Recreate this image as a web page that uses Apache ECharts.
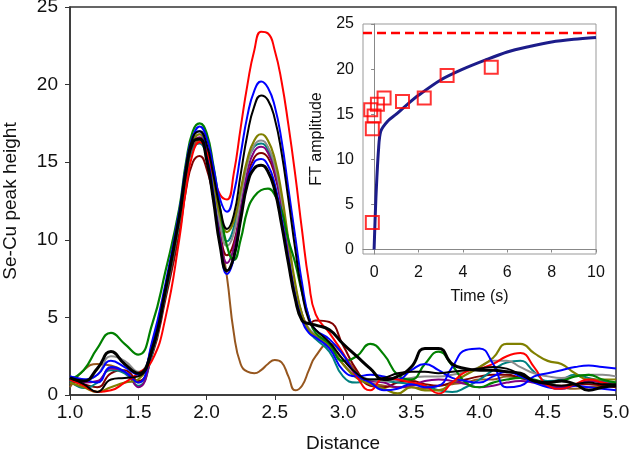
<!DOCTYPE html>
<html>
<head>
<meta charset="utf-8">
<script src="https://cdn.jsdelivr.net/npm/echarts@6/dist/echarts.min.js"></script>
<style>
  html, body { margin: 0; padding: 0; background: #fff; }
  #chart { width: 629px; height: 456px; }
</style>
</head>
<body>
<div id="chart"></div>
<script>
// distance grid shared by every curve (finer around the two peaks)
const distance = [1.0,1.1,1.2,1.3,1.4,1.5,1.6,1.7,1.8,1.85,1.9,1.95,2.0,2.05,2.1,2.15,2.2,2.25,2.3,2.35,2.4,2.45,2.5,2.55,2.6,2.65,2.7,2.75,2.8,2.9,3.0,3.1,3.2,3.3,3.4,3.5,3.6,3.7,3.8,3.9,4.0,4.1,4.2,4.3,4.4,4.5,4.6,4.7,4.8,4.9,5.0];

const red = [1.0,0.6,0.2,0.3,0.8,1.4,2.2,5.0,10.0, 13.3,15.6,16.3,15.7,14.2,12.9,12.6,14.3,17.2,20.0,22.2,23.4,23.3,22.2,20.2,17.4,14.2,10.6,7.3,5.2, 4.0,2.7,1.2,0.3,1.1,1.0,0.8,0.6,0.1,0.8,1.5,1.7,2.0,2.5,2.7,1.8,0.6,0.4,0.7,1.0,0.8,0.6];
const blue = [1.2,1.0,1.3,2.2,1.8,1.3,3.2,7.0,11.5, 14.5,16.6,17.3,16.6,14.7,12.6,11.8,13.0,15.5,18.0,19.6,20.2,19.8,18.6,16.4,13.3,10.2,7.2,5.0,4.2, 3.6,2.6,1.3,0.8,0.3,0.4,0.7,0.5,0.6,1.8,2.9,3.0,2.0,0.5,0.6,1.2,1.4,1.6,1.8,1.9,1.8,1.7];
const blackThin = [1.1,0.7,0.2,1.0,1.1,1.2,2.8,6.8,11.5, 14.6,16.6,17.0,16.2,14.2,12.0,10.7,11.6,14.2,16.8,18.6,19.3,19.0,17.8,15.6,12.6,9.4,6.6,4.8,4.2, 3.4,2.3,1.4,1.0,1.1,1.4,1.5,1.5,1.4,1.5,1.6,1.7,1.8,1.7,1.3,0.9,0.7,0.6,0.7,0.8,0.7,0.7];
const olive = [0.8,0.5,0.2,0.5,0.8,1.0,3.0,6.8,11.2, 14.3,16.3,16.8,16.0,13.8,11.5,10.5,11.2,13.2,15.2,16.4,16.8,16.4,15.2,13.0,10.0,7.2,5.2,4.2,3.8, 3.2,2.0,1.1,0.7,0.4,0.1,0.5,0.3,0.3,0.8,1.3,1.8,2.4,3.3,3.3,2.7,2.2,2.0,1.4,1.0,1.0,1.0];
const gray = [1.2,1.0,1.3,2.5,2.2,1.5,3.0,6.9,11.3, 14.4,16.4,16.8,15.8,13.6,11.0,9.6,10.4,12.7,14.9,16.1,16.4,16.0,14.8,12.6,9.8,7.0,5.2,4.3,3.9, 3.3,2.3,1.4,1.0,0.9,1.0,1.1,1.2,1.2,1.3,1.5,1.8,2.2,2.2,1.8,1.4,1.2,1.1,1.2,1.3,1.3,1.2];
const purple = [1.0,0.8,0.9,1.7,1.5,0.5,2.8,6.8,11.2, 14.3,16.2,16.6,15.5,13.0,10.2,8.5,9.5,12.0,14.4,15.7,16.0,15.6,14.4,12.2,9.4,6.8,5.0,4.2,3.8, 3.1,2.0,1.2,0.9,0.8,0.5,0.6,0.9,1.0,0.9,0.7,0.5,0.6,0.8,0.9,0.8,0.6,0.5,0.6,0.9,0.8,0.6];
const blue2 = [1.2,1.0,0.8,1.8,1.5,0.8,3.4,7.2,11.8, 14.8,16.7,17.0,15.8,13.0,9.8,7.8,8.8,11.4,13.8,15.0,15.2,14.8,13.6,11.4,8.8,6.4,4.8,4.0,3.7, 3.0,1.6,1.2,1.3,1.2,1.0,1.6,2.0,1.6,1.1,0.9,0.8,1.2,1.5,1.2,0.8,0.5,0.4,0.6,0.5,0.4,0.3];
const blackThick = [1.1,0.9,1.7,2.8,2.0,1.4,2.9,6.8,11.4, 14.4,16.3,16.5,15.2,12.6,9.6,8.0,8.9,11.3,13.6,14.6,14.8,14.4,13.2,11.0,8.5,6.2,4.8,4.6,4.5, 4.2,3.3,2.5,1.7,1.0,1.2,1.8,3.0,3.0,2.0,1.7,1.6,1.6,1.5,1.4,0.9,0.8,0.9,0.7,0.3,0.5,0.6];
const green = [1.0,1.6,3.0,4.0,3.3,2.6,4.5,8.0,12.0, 15.0,17.0,17.5,16.9,14.8,12.0,9.6,8.7,10.0,11.9,12.8,13.2,13.3,12.9,11.9,10.0,8.5,6.6,5.0,4.0, 3.3,2.2,2.5,3.3,2.6,1.3,1.0,2.0,2.8,1.9,0.8,0.5,0.8,1.0,1.1,1.0,0.8,0.9,1.2,1.3,1.0,0.8];
const teal = [0.9,0.45,0.8,1.6,1.4,0.6,2.6,6.5,11.0, 14.0,15.9,16.2,15.4,13.4,11.0,9.9,10.8,13.0,15.0,16.0,16.2,15.8,14.6,12.4,9.6,6.9,5.0,4.1,3.6, 2.8,1.2,0.8,1.0,0.9,0.8,0.7,0.6,0.3,0.2,0.5,1.0,1.6,2.1,2.2,1.5,0.9,1.0,1.3,1.1,0.9,0.8];
const maroon = [0.9,0.7,0.5,1.4,1.6,0.9,2.5,6.2,10.4, 13.2,15.0,15.4,14.6,12.8,10.4,9.0,9.8,12.0,14.0,15.3,15.6,15.3,14.2,12.2,9.6,7.0,5.2,4.6,4.8, 4.7,3.2,1.6,0.6,0.5,0.8,0.9,0.7,0.6,0.8,1.0,1.2,1.3,1.3,1.1,0.9,0.7,0.6,0.7,0.7,0.6,0.5];
const brown = [0.5,1.6,2.0,1.9,1.5,0.8,2.8,6.6,11.2, 14.2,16.0,16.4,15.5,13.3,10.3,7.6,4.0,2.0,1.5,1.4,1.6,2.0,2.25,2.1,1.2,0.3,0.6,1.6,2.5, 3.3,2.6,1.5,0.8,0.6,0.5,0.5,0.4,0.6,0.7,0.8,1.0,1.0,1.2,1.1,0.9,0.7,0.5,0.4,0.5,0.6,0.7];

// inset: FT amplitude vs time
const timePoints = [-0.08,-0.08,0,-0.15,0.15,0.45,1.28,2.26,3.29,5.28];
const ampPoints = [3.0,13.4,14.8,15.5,16.1,16.8,16.4,16.8,19.3,20.2];
const fitTime = [0,0.08,0.2,0.3,0.6,1,1.5,2,3,4,5,6,7,8,9,10];
const fitAmp = [0,5.6,11.1,13.1,14.2,15.0,16.1,17.1,18.8,20.0,21.0,21.9,22.5,23.0,23.3,23.5];
const plateau = 24;
const insetXTicks = [0,2,4,6,8,10];
const insetYTicks = [0,5,10,15,20,25];

// drawing order: first in list is at the bottom
const curves = [
    { data: brown, color: "#96561e", width: 2 },
    { data: maroon, color: "#800000", width: 2 },
    { data: teal, color: "#008080", width: 2 },
    { data: purple, color: "#800080", width: 2 },
    { data: gray, color: "#8c8c8c", width: 2 },
    { data: olive, color: "#808000", width: 2.2 },
    { data: green, color: "#008000", width: 2.2 },
    { data: blue2, color: "#0000ff", width: 2 },
    { data: red, color: "#ff0000", width: 2 },
    { data: blue, color: "#0000ff", width: 2 },
    { data: blackThin, color: "#000000", width: 2 },
    { data: blackThick, color: "#000000", width: 3 },
];

const font = "Liberation Sans";
const chart = echarts.init(document.getElementById("chart"));

const mainSeries = curves.map((c) => ({
    type: "line",
    xAxisIndex: 0,
    yAxisIndex: 0,
    data: distance.map((d, i) => [d, c.data[i]]),
    showSymbol: false,
    smooth: 0.5,
    lineStyle: { color: c.color, width: c.width },
    itemStyle: { color: c.color },
    z: 2,
}));

chart.setOption({
    animation: false,
    backgroundColor: "#fff",
    textStyle: { fontFamily: font },
    grid: [
        {
            left: 70,
            top: 7,
            right: 13,
            bottom: 61,
            outerBoundsMode: "none",
            containLabel: false,
            show: true,
            borderColor: "#333",
            borderWidth: 1.5,
        },
        {
            left: 363,
            top: 24,
            width: 233,
            height: 230,
            outerBoundsMode: "none",
            containLabel: false,
            show: true,
            backgroundColor: "#fff",
            borderColor: "#999",
            borderWidth: 1,
            z: 5,
        },
    ],
    xAxis: [
        {
            type: "value",
            gridIndex: 0,
            min: 1,
            max: 5,
            interval: 0.5,
            name: "Distance",
            nameLocation: "middle",
            nameGap: 39,
            nameTextStyle: { fontSize: 19, color: "#111" },
            axisLine: { lineStyle: { color: "#333", width: 1.5 } },
            axisTick: { inside: false, length: 5, lineStyle: { color: "#333" } },
            axisLabel: {
                fontSize: 19,
                color: "#111",
                margin: 8,
                formatter: (v) => v.toFixed(1),
            },
            splitLine: { show: false },
        },
        {
            type: "value",
            gridIndex: 1,
            min: -0.5,
            max: 10,
            name: "Time (s)",
            nameLocation: "middle",
            nameGap: 35,
            nameTextStyle: { fontSize: 16, color: "#111" },
            axisLine: { lineStyle: { color: "#888" } },
            axisTick: { length: 3, lineStyle: { color: "#888" }, customValues: insetXTicks },
            axisLabel: { fontSize: 16, color: "#111", margin: 11, customValues: insetXTicks },
            splitLine: { show: false },
            z: 6,
        },
    ],
    yAxis: [
        {
            type: "value",
            gridIndex: 0,
            min: 0,
            max: 25,
            interval: 5,
            name: "Se-Cu peak height",
            nameLocation: "middle",
            nameGap: 50,
            nameTextStyle: { fontSize: 19, color: "#111" },
            axisLine: { lineStyle: { color: "#333", width: 1.5 } },
            axisTick: { inside: false, length: 5, lineStyle: { color: "#333" } },
            axisLabel: { fontSize: 19, color: "#111", margin: 12 },
            splitLine: { show: false },
        },
        {
            type: "value",
            gridIndex: 1,
            min: -0.5,
            max: 25,
            name: "FT amplitude",
            nameLocation: "middle",
            nameGap: 38,
            nameTextStyle: { fontSize: 16, color: "#111" },
            axisLine: { lineStyle: { color: "#888" } },
            axisTick: { length: 3, lineStyle: { color: "#888" }, customValues: insetYTicks },
            axisLabel: { fontSize: 16, color: "#111", margin: 9, customValues: insetYTicks },
            splitLine: { show: false },
            z: 6,
        },
    ],
    series: [
        ...mainSeries,
        {
            type: "line",
            xAxisIndex: 1,
            yAxisIndex: 1,
            data: [[-0.5, plateau], [10, plateau]],
            showSymbol: false,
            lineStyle: { color: "#ff0000", width: 2.5, type: [9, 5] },
            z: 10,
        },
        {
            type: "line",
            xAxisIndex: 1,
            yAxisIndex: 1,
            data: fitTime.map((t, i) => [t, fitAmp[i]]),
            showSymbol: false,
            smooth: 0.3,
            lineStyle: { color: "#1c1c8a", width: 3 },
            z: 11,
        },
        {
            type: "scatter",
            xAxisIndex: 1,
            yAxisIndex: 1,
            data: timePoints.map((t, i) => [t, ampPoints[i]]),
            symbol: "rect",
            symbolSize: 13,
            itemStyle: { color: "rgba(0,0,0,0)", borderColor: "#ff0000", borderWidth: 2 },
            z: 12,
        },
    ],
});
</script>
</body>
</html>
